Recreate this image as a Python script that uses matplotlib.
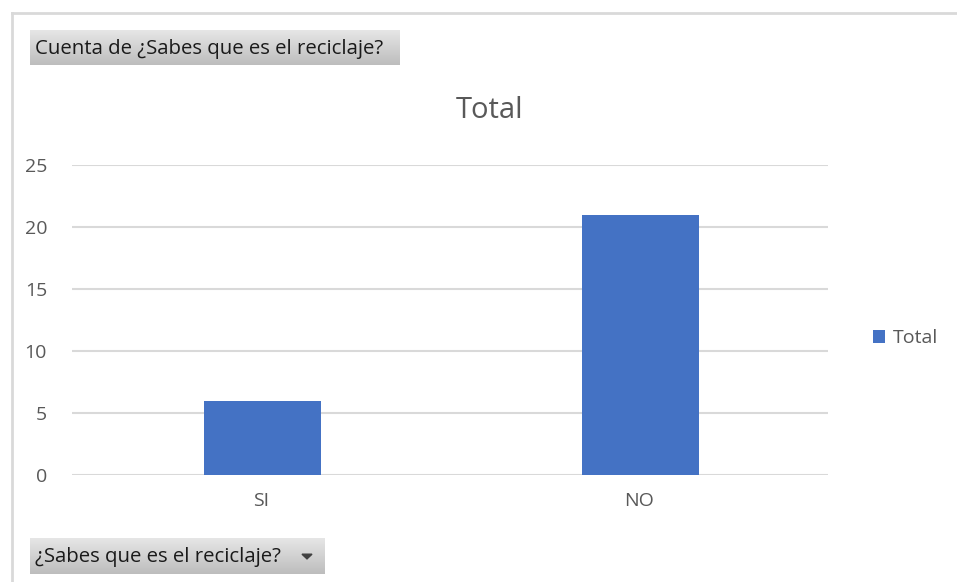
import numpy as np
import matplotlib.pyplot as plt
from matplotlib.patches import Polygon
from matplotlib.lines import Line2D
from matplotlib.colors import LinearSegmentedColormap

categories = ['SI', 'NO']
totals = [6, 21]
yticks = [0, 5, 10, 15, 20, 25]

W, H = 957, 582
fig = plt.figure(figsize=(W / 100, H / 100), dpi=100)
fig.patch.set_facecolor('white')

# outer frame lines (top and left)
fig.add_artist(Line2D([12 / W, 1], [1 - 13 / H, 1 - 13 / H], color='#d9d9d9', lw=2))
fig.add_artist(Line2D([12 / W, 12 / W], [0, 1 - 13 / H], color='#d9d9d9', lw=2))

cmap = LinearSegmentedColormap.from_list('g', ['#bdbdbd', '#e6e6e6'])


def button(x0, y0, x1, y1, text, arrow=False):
    # gradient gray field button
    bax = fig.add_axes([x0 / W, 1 - y1 / H, (x1 - x0) / W, (y1 - y0) / H])
    grad = np.linspace(0, 1, 50).reshape(-1, 1)
    bax.imshow(grad, aspect='auto', cmap=cmap, extent=[0, 1, 0, 1], origin='lower')
    bax.set_xlim(0, 1)
    bax.set_ylim(0, 1)
    bax.axis('off')
    bax.text(5 / (x1 - x0), 0.47, text, fontsize=14.7, family='Open Sans',
             color='#1a1a1a', va='center', ha='left')
    if arrow:
        cx = (x1 - 18 - x0) / (x1 - x0)
        dx = 5 / (x1 - x0)
        bax.add_patch(Polygon([[cx - dx, 0.55], [cx + dx, 0.55], [cx, 0.42]],
                              closed=True, color='#404040'))


button(30, 30, 400, 65, 'Cuenta de ¿Sabes que es el reciclaje?')
button(30, 538, 325, 574, '¿Sabes que es el reciclaje?', arrow=True)

ax = fig.add_axes([72 / W, 1 - 475 / H, (828 - 72) / W, (475 - 165) / H])
x = np.arange(len(categories))
ax.bar(x + 0.005, totals, width=0.31, color='#4472C4', zorder=3, label='Total')
ax.set_xlim(-0.5, len(categories) - 0.5)
ax.set_ylim(0, 25)
ax.set_yticks(yticks)
ax.set_xticks(x)
ax.set_xticklabels(categories)
ax.yaxis.grid(True, color='#d9d9d9', lw=1.5, zorder=0)
for s in ax.spines.values():
    s.set_visible(False)
ax.tick_params(length=0, labelsize=14, labelcolor='#595959')
ax.tick_params(axis='y', pad=18)
ax.tick_params(axis='x', pad=12)
for lab in ax.get_xticklabels() + ax.get_yticklabels():
    lab.set_family('Open Sans')

fig.text(490 / W, 1 - 110 / H, 'Total', fontsize=21, color='#595959',
         ha='center', va='center', family='Open Sans')

leg = fig.legend(loc='center left', bbox_to_anchor=(855 / W, 1 - 338 / H), frameon=False,
                 handlelength=0.65, handleheight=0.65, handletextpad=0.4,
                 prop={'family': 'Open Sans', 'size': 14})
for t in leg.get_texts():
    t.set_color('#595959')

fig.savefig('out.png', dpi=100)
